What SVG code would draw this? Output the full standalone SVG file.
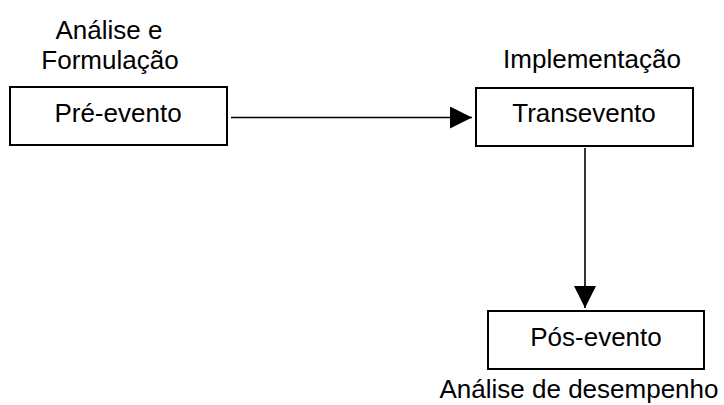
<svg xmlns="http://www.w3.org/2000/svg" width="724" height="405" viewBox="0 0 724 405">
<style>
text{font-family:"Liberation Sans",Arial,sans-serif;font-size:26px;fill:#000;text-anchor:middle}
.box{fill:#fff;stroke:#000;stroke-width:2}
.edge{stroke:#000;stroke-width:1.6;fill:none}
</style>
<defs>
<marker id="arr" markerUnits="userSpaceOnUse" markerWidth="22" markerHeight="22" refX="22" refY="11" orient="auto" viewBox="0 0 22 22">
<path d="M0,0 L22,11 L0,22 Z" fill="#000"/>
</marker>
</defs>
<rect width="724" height="405" fill="#fff"/>
<g id="connectors">
<line class="edge" x1="231" y1="117.5" x2="472" y2="117.5" marker-end="url(#arr)"/>
<line class="edge" x1="585" y1="148" x2="585" y2="308" marker-end="url(#arr)"/>
</g>
<g id="pre-evento">
<text x="109" y="39">Análise e</text>
<text x="110" y="69">Formulação</text>
<rect class="box" x="10" y="87" width="217" height="58"/>
<text x="118" y="122">Pré-evento</text>
</g>
<g id="transevento">
<text x="592" y="68">Implementação</text>
<rect class="box" x="476" y="88" width="217" height="58"/>
<text x="584" y="122">Transevento</text>
</g>
<g id="pos-evento">
<rect class="box" x="488" y="311" width="216" height="58"/>
<text x="596" y="346">Pós-evento</text>
<text x="579" y="398">Análise de desempenho</text>
</g>
</svg>
